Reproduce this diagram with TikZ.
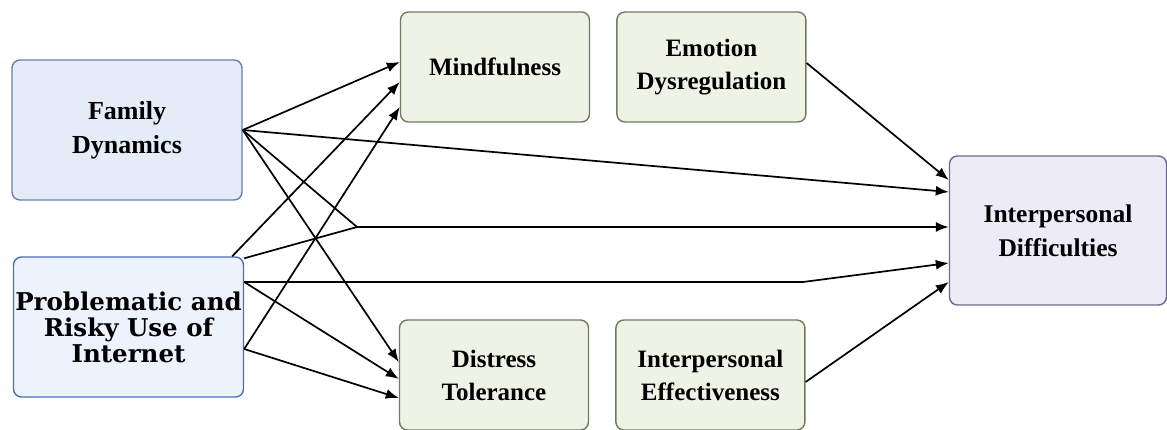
\documentclass[tikz,border=0pt]{standalone}
\usepackage{fontspec}
\newfontfamily\timesfont{Liberation Serif}
\newfontfamily\slabfont{DejaVu Serif}
\usetikzlibrary{arrows.meta,positioning}
\definecolor{famfill}{HTML}{E4ECF8}
\definecolor{famdraw}{HTML}{6A7FAE}
\definecolor{netfill}{HTML}{EDF3FC}
\definecolor{netdraw}{HTML}{4B6FB3}
\definecolor{medfill}{HTML}{EEF3E6}
\definecolor{meddraw}{HTML}{6F7B60}
\definecolor{outfill}{HTML}{EEEBF8}
\definecolor{outdraw}{HTML}{6C6A8A}
\tikzset{
  box/.style={draw,rectangle,rounded corners=8pt,line width=1.4pt,align=center,inner sep=0pt},
  srcbox/.style={box,minimum width=230pt,minimum height=140pt},
  medbox/.style={box,draw=meddraw,fill=medfill,minimum width=189pt,minimum height=110pt,
    font=\timesfont\bfseries\fontsize{25}{33}\selectfont},
  outbox/.style={box,draw=outdraw,fill=outfill,minimum width=217pt,minimum height=149pt,
    font=\timesfont\bfseries\fontsize{25.5}{34}\selectfont},
  arr/.style={-{Latex[length=13pt,width=10pt]},line width=1.7pt}
}

\begin{document}
\begin{tikzpicture}[x=1pt,y=-1pt]
\useasboundingbox (0,0) rectangle (1167,430);

\node[srcbox,draw=famdraw,fill=famfill,font=\timesfont\bfseries\fontsize{26}{34}\selectfont] (family) at (127,130) {
Family\\
Dynamics
};

\node[srcbox,draw=netdraw,fill=netfill,font=\slabfont\bfseries\fontsize{24.5}{26}\selectfont] (internet) at (128.5,327) {
Problematic and\\
Risky Use of\\
Internet
};

\node[medbox] (mind) at (495,67) {Mindfulness};
\node[medbox,right=26pt of mind] (emotion) {Emotion\\Dysregulation};
\node[medbox] (distress) at (494,375) {Distress\\Tolerance};
\node[medbox,right=26pt of distress] (effect) {Interpersonal\\Effectiveness};
\node[outbox] (difficult) at (1058,230.5) {Interpersonal\\Difficulties};

\coordinate (join) at (357,227);
\coordinate (bend) at (803,282);

% from family dynamics
\draw[arr] (family.east) -- ([yshift=5pt]mind.west);
\draw[arr] (family.east) -- ([yshift=38.5pt]difficult.west);
\draw[arr] (family.east) -- (join) -- ([yshift=3.5pt]difficult.west);
\draw[arr] (family.east) -- ([yshift=13pt]distress.west);

% from internet use
\draw[arr] ([xshift=-12pt]internet.north east) -- ([yshift=-15pt]mind.west);
\draw[line width=1.7pt] ([yshift=-2pt]internet.north east) -- (join);
\draw[arr] ([yshift=45pt]internet.east) -- (bend) -- ([yshift=-32.5pt]difficult.west);
\draw[arr] ([yshift=45pt]internet.east) -- ([yshift=-4pt]distress.west);
\draw[arr] ([yshift=-22pt]internet.east) -- ([yshift=-40pt]mind.west);
\draw[arr] ([yshift=-22pt]internet.east) -- ([yshift=-23pt]distress.west);

% to interpersonal difficulties
\draw[arr] ([yshift=4pt]emotion.east) -- ([yshift=50.5pt]difficult.west);
\draw[arr] ([yshift=-7pt]effect.east) -- ([yshift=-51.5pt]difficult.west);

\end{tikzpicture}
\end{document}
